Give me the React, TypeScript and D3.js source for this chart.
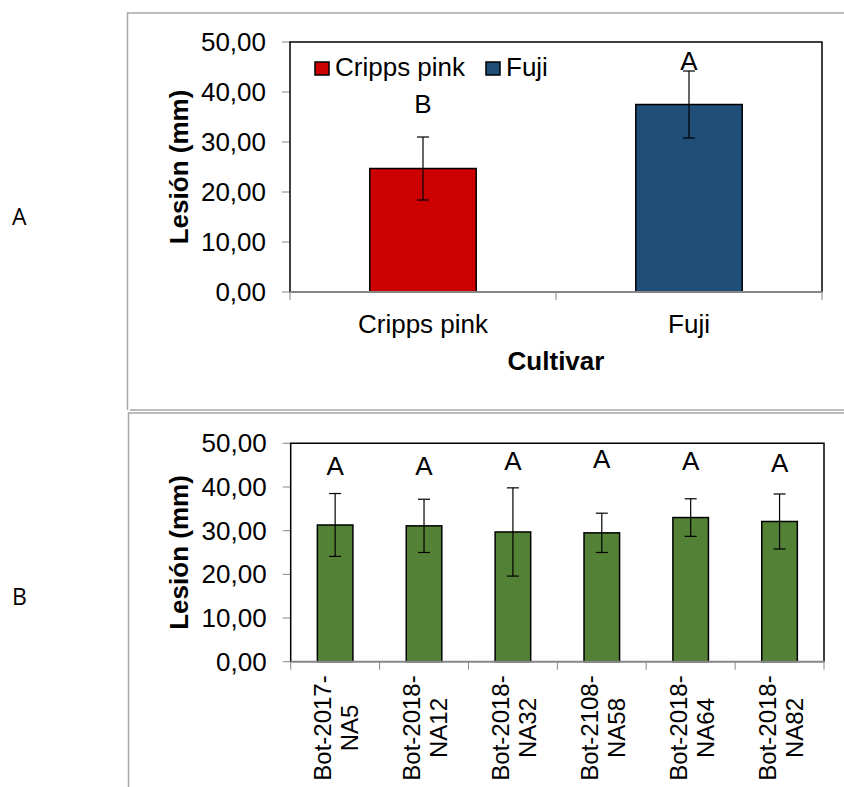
import React from 'react';
import * as d3 from 'd3';

const cultivars = ['Cripps pink', 'Fuji'];
const cultivarMeans = [24.7, 37.5];
const cultivarErrors = [6.3, 6.7];
const cultivarLetters = ['B', 'A'];
const cultivarLetterPos = [35.8, 44.4];
const cultivarColors = ['#CC0000', '#1F4E79'];

const isolateLines = [
  ['Bot-2017-', 'NA5'],
  ['Bot-2018-', 'NA12'],
  ['Bot-2018-', 'NA32'],
  ['Bot-2108-', 'NA58'],
  ['Bot-2018-', 'NA64'],
  ['Bot-2018-', 'NA82'],
];
const isolateMeans = [31.3, 31.1, 29.7, 29.5, 33.0, 32.1];
const isolateErrors = [7.2, 6.1, 10.1, 4.5, 4.3, 6.3];
const isolateLetters = ['A', 'A', 'A', 'A', 'A', 'A'];
const isolateLetterPos = [42.7, 42.7, 43.9, 44.4, 43.9, 43.5];
const isolateColor = '#538135';

const yTicks = [0, 10, 20, 30, 40, 50];
const yTitle = 'Lesión (mm)';
const xTitleTop = 'Cultivar';

const locale = d3.formatLocale({ decimal: ',', thousands: '.', grouping: [3], currency: ['', ''] });
const fmt = locale.format('.2f');

const FONT = '"Liberation Sans", Arial, sans-serif';
const FS = 26;

function YAxis({ y, left }: { y: d3.ScaleLinear<number, number>; left: number }) {
  return (
    <g>
      {yTicks.map((t) => (
        <g key={t}>
          <line x1={left - 8} x2={left} y1={y(t)} y2={y(t)} stroke="#868686" strokeWidth={1} />
          <text x={left - 24} y={y(t)} dy="0.35em" textAnchor="end" fontSize={FS} fontFamily={FONT} fill="#000">
            {fmt(t)}
          </text>
        </g>
      ))}
    </g>
  );
}

function ErrorBar({ cx, y, mean, err }: { cx: number; y: d3.ScaleLinear<number, number>; mean: number; err: number }) {
  const hi = y(mean + err);
  const lo = y(mean - err);
  return (
    <g stroke="#000" strokeWidth={1.2}>
      <line x1={cx} x2={cx} y1={hi} y2={lo} />
      <line x1={cx - 6} x2={cx + 6} y1={hi} y2={hi} />
      <line x1={cx - 6} x2={cx + 6} y1={lo} y2={lo} />
    </g>
  );
}

export default function App() {
  const topLeft = 290, topRight = 822, topTop = 42, topBottom = 292;
  const xTop = d3.scaleBand<string>().domain(cultivars).range([topLeft, topRight]).paddingInner(0.6).paddingOuter(0.3);
  const yTop = d3.scaleLinear().domain([0, 50]).range([topBottom, topTop]);
  const topBoundaries = d3.range(cultivars.length + 1).map((i) => topLeft + i * (topRight - topLeft) / cultivars.length);

  const botLeft = 290.7, botRight = 824, botTop = 443.3, botBottom = 661.7;
  const isoKeys = isolateLines.map((l, i) => l.join(' ') + i);
  const xBot = d3.scaleBand<string>().domain(isoKeys).range([botLeft, botRight]).paddingInner(0.6).paddingOuter(0.3);
  const yBot = d3.scaleLinear().domain([0, 50]).range([botBottom, botTop]);
  const botBoundaries = d3.range(isoKeys.length + 1).map((i) => botLeft + i * (botRight - botLeft) / isoKeys.length);

  return (
    <svg width={844} height={787} style={{ position: 'absolute', left: 0, top: 0, background: '#fff' }}>
      <rect x={0} y={0} width={844} height={787} fill="#fff" />
      <path d="M 850 13 H 127.5 V 410" fill="none" stroke="#a6a6a6" strokeWidth={1.5} />
      <path d="M 130 410 H 850" fill="none" stroke="#a6a6a6" strokeWidth={1.5} />
      <path d="M 850 413 H 128.5 V 790" fill="none" stroke="#a6a6a6" strokeWidth={1.5} />

      <text x={12} y={225} fontSize={23} fontFamily='"Open Sans", sans-serif' fill="#000">A</text>
      <text x={12} y={605} fontSize={23} fontFamily='"Open Sans", sans-serif' fill="#000">B</text>

      {/* Top chart */}
      <YAxis y={yTop} left={topLeft} />
      {cultivars.map((c, i) => (
        <rect key={c} x={xTop(c)} y={yTop(cultivarMeans[i])} width={xTop.bandwidth()} height={topBottom - yTop(cultivarMeans[i])}
          fill={cultivarColors[i]} stroke="#000" strokeWidth={1.5} />
      ))}
      {cultivars.map((c, i) => (
        <ErrorBar key={c} cx={xTop(c)! + xTop.bandwidth() / 2} y={yTop} mean={cultivarMeans[i]} err={cultivarErrors[i]} />
      ))}
      {cultivars.map((c, i) => (
        <text key={c} x={xTop(c)! + xTop.bandwidth() / 2} y={yTop(cultivarLetterPos[i])} textAnchor="middle" fontSize={FS} fontFamily={FONT}>
          {cultivarLetters[i]}
        </text>
      ))}
      <path d={`M ${topLeft} ${topBottom} V ${topTop} H ${topRight} V ${topBottom}`} fill="none" stroke="#000" strokeWidth={1.5} />
      <line x1={topLeft} x2={topRight} y1={topBottom} y2={topBottom} stroke="#868686" strokeWidth={2} />
      {topBoundaries.map((b, i) => (
        <line key={i} x1={b} x2={b} y1={topBottom} y2={topBottom + 8} stroke="#868686" strokeWidth={1} />
      ))}
      {cultivars.map((c) => (
        <text key={c} x={xTop(c)! + xTop.bandwidth() / 2} y={333} textAnchor="middle" fontSize={FS} fontFamily={FONT}>{c}</text>
      ))}
      <text x={(topLeft + topRight) / 2} y={370} textAnchor="middle" fontSize={FS} fontWeight="bold" fontFamily={FONT}>{xTitleTop}</text>
      <text transform={`translate(188, ${(topTop + topBottom) / 2}) rotate(-90)`} textAnchor="middle" fontSize={FS} fontWeight="bold" fontFamily={FONT}>{yTitle}</text>
      {cultivars.map((c, i) => {
        const lx = i === 0 ? 315 : 486;
        return (
          <g key={c}>
            <rect x={lx} y={62} width={14} height={13} fill={cultivarColors[i]} stroke="#000" strokeWidth={1.5} />
            <text x={lx + 20} y={76} fontSize={FS} fontFamily={FONT}>{c}</text>
          </g>
        );
      })}

      {/* Bottom chart */}
      <YAxis y={yBot} left={botLeft} />
      {isoKeys.map((k, i) => (
        <rect key={k} x={xBot(k)} y={yBot(isolateMeans[i])} width={xBot.bandwidth()} height={botBottom - yBot(isolateMeans[i])}
          fill={isolateColor} stroke="#000" strokeWidth={1.5} />
      ))}
      {isoKeys.map((k, i) => (
        <ErrorBar key={k} cx={xBot(k)! + xBot.bandwidth() / 2} y={yBot} mean={isolateMeans[i]} err={isolateErrors[i]} />
      ))}
      {isoKeys.map((k, i) => (
        <text key={k} x={xBot(k)! + xBot.bandwidth() / 2} y={yBot(isolateLetterPos[i])} textAnchor="middle" fontSize={FS} fontFamily={FONT}>
          {isolateLetters[i]}
        </text>
      ))}
      <path d={`M ${botLeft} ${botBottom} V ${botTop} H ${botRight} V ${botBottom}`} fill="none" stroke="#000" strokeWidth={1.5} />
      <line x1={botLeft} x2={botRight} y1={botBottom} y2={botBottom} stroke="#868686" strokeWidth={2} />
      {botBoundaries.map((b, i) => (
        <line key={i} x1={b} x2={b} y1={botBottom} y2={botBottom + 8} stroke="#868686" strokeWidth={1} />
      ))}
      {isoKeys.map((k, i) => {
        const cx = xBot(k)! + xBot.bandwidth() / 2;
        return (
          <text key={k} transform={`translate(${cx}, 728) rotate(-90)`} textAnchor="middle" fontSize={24} fontFamily={FONT}>
            <tspan x={0} y={-4}>{isolateLines[i][0]}</tspan>
            <tspan x={0} y={23}>{isolateLines[i][1]}</tspan>
          </text>
        );
      })}
      <text transform={`translate(188, ${(botTop + botBottom) / 2}) rotate(-90)`} textAnchor="middle" fontSize={FS} fontWeight="bold" fontFamily={FONT}>{yTitle}</text>
    </svg>
  );
}
